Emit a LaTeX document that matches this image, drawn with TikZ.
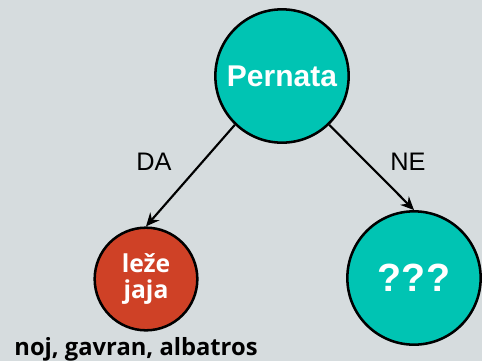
\documentclass[tikz,border=0pt]{standalone}
\usepackage{fontspec}
\setmainfont{Liberation Sans}
\newfontfamily\leaffont{Open Sans}
\usetikzlibrary{positioning, arrows.meta}
\definecolor{bgcol}{RGB}{214,220,222}
\definecolor{tealcol}{RGB}{0,196,179}
\definecolor{redcol}{RGB}{207,65,38}
\tikzset{
question/.style={shape=circle, inner sep=0, draw, line width=1.9pt, fill=tealcol, text=white, font=\bfseries},
answer/.style={question, fill=redcol, align=center, font=\leaffont\bfseries\fontsize{18.5}{19.5}\selectfont},
branch/.style={-{Stealth[length=10pt, width=9pt]}, line width=1.6pt},
edgelabel/.style={font=\fontsize{19}{21}\selectfont}}

\begin{document}
\begin{tikzpicture}[x=0.75pt, y=-0.75pt]
\fill [bgcol] (0,0) rectangle (482,361);
\useasboundingbox (0,0) rectangle (482,361);
\node [question, minimum size=100pt, font=\bfseries\fontsize{22.5}{24}\selectfont] at (282, 76) (root) {Pernata};
\node [answer, minimum size=77pt] at (146, 279) (yes) {le\v{z}e\\jaja};
\node [question, minimum size=100pt, font=\bfseries\fontsize{29.5}{31}\selectfont] at (414, 278) (no) {???};
\draw [branch] (root.226) -- (yes.north);
\draw [branch] (root.-46) -- (no.north);
\node [edgelabel] at (154, 162) (da) {DA};
\node [edgelabel] at (408, 162) (ne) {NE};
\node [font=\leaffont\bfseries\fontsize{17.8}{19}\selectfont, anchor=base] at (136, 355) (examples) {noj, gavran, albatros};
\end{tikzpicture}
\end{document}
